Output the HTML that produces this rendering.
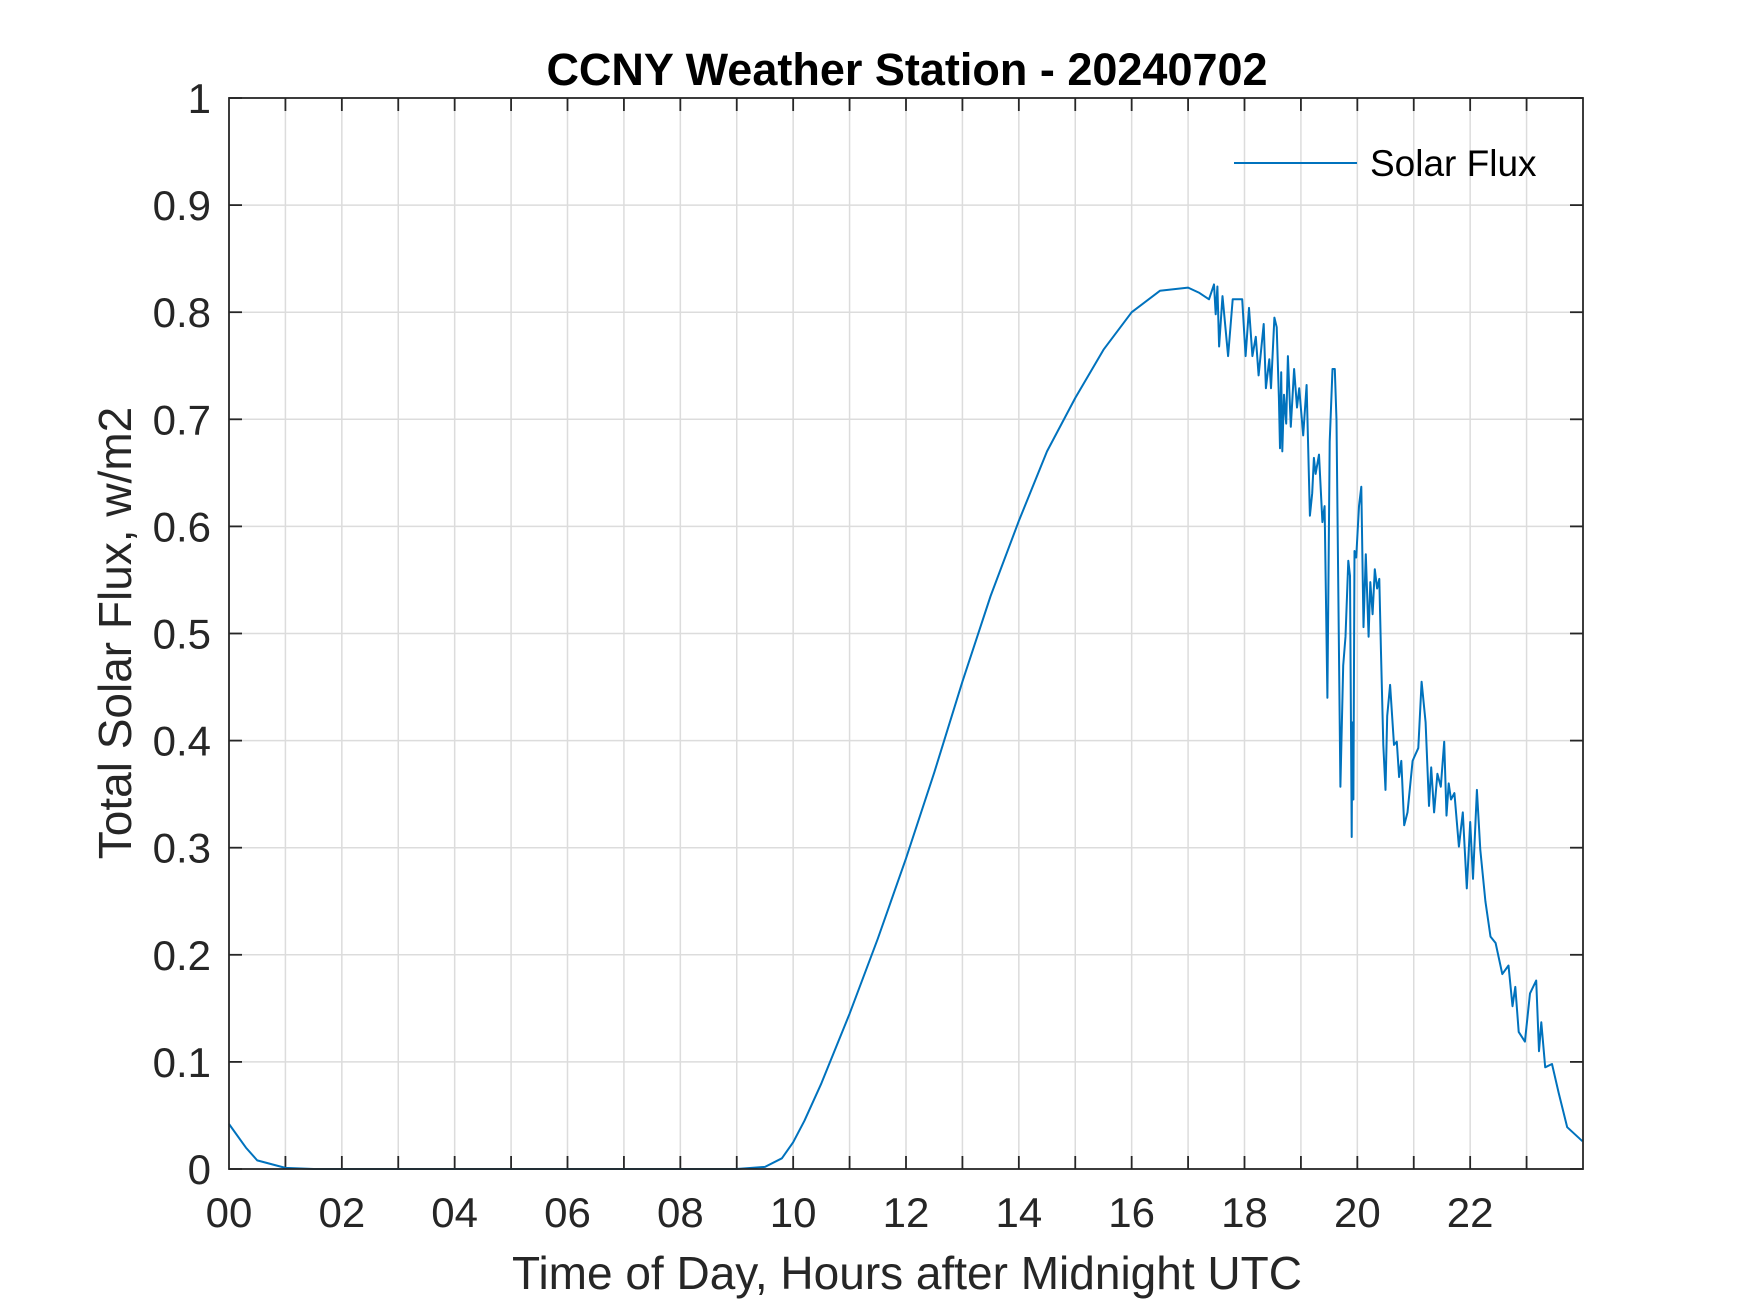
<!DOCTYPE html>
<html><head><meta charset="utf-8"><style>
body{margin:0;background:#fff}
svg{display:block;font-family:"Liberation Sans",Arial,sans-serif}
</style></head><body>
<svg id="chart" width="1750" height="1313" viewBox="0 0 1750 1313" xmlns="http://www.w3.org/2000/svg">
<rect width="1750" height="1313" fill="#fff"/>
<g id="grid"></g><g id="ticks"></g>
<path id="series" fill="none" stroke="#0072BD" stroke-width="2" stroke-linejoin="round"/>
<rect x="229" y="98" width="1354" height="1071" fill="none" stroke="#262626" stroke-width="1.8"/>
<text x="907" y="85" text-anchor="middle" font-size="45" font-weight="bold" fill="#000">CCNY Weather Station - 20240702</text>
<text x="907" y="1289" text-anchor="middle" font-size="46" fill="#262626">Time of Day, Hours after Midnight UTC</text>
<text transform="translate(131,633) rotate(-90)" text-anchor="middle" font-size="46" fill="#262626">Total Solar Flux, w/m2</text>
<g>
<line x1="1234" y1="163" x2="1357" y2="163" stroke="#0072BD" stroke-width="2"/>
<text x="1370" y="176" font-size="37" fill="#000">Solar Flux</text>
</g>
</svg>
<script>
const hours=[0,0.3,0.5,1.0,1.5,9.0,9.5,9.8,10.0,10.2,10.5,11,11.5,12,12.5,13,13.5,14,14.5,15,15.5,16,16.5,17.0,17.2,17.37,17.46,17.49,17.52,17.55,17.61,17.71,17.79,17.96,18.02,18.08,18.14,18.2,18.25,18.34,18.38,18.44,18.47,18.53,18.57,18.61,18.63,18.65,18.67,18.7,18.74,18.77,18.82,18.88,18.93,18.97,19.04,19.1,19.16,19.2,19.23,19.26,19.32,19.38,19.42,19.47,19.51,19.56,19.6,19.63,19.7,19.75,19.79,19.84,19.87,19.9,19.91,19.93,19.95,19.98,20.03,20.07,20.11,20.15,20.2,20.23,20.27,20.31,20.35,20.39,20.42,20.46,20.5,20.53,20.58,20.65,20.7,20.74,20.78,20.83,20.89,20.98,21.03,21.08,21.14,21.21,21.27,21.31,21.36,21.42,21.48,21.54,21.58,21.62,21.66,21.72,21.8,21.87,21.94,22.0,22.05,22.12,22.18,22.27,22.36,22.45,22.57,22.68,22.75,22.8,22.86,22.97,23.06,23.17,23.22,23.26,23.33,23.45,23.57,23.72,23.99];
const flux=[0.042,0.02,0.008,0.001,0,0,0.002,0.01,0.025,0.045,0.08,0.145,0.215,0.29,0.37,0.455,0.535,0.605,0.67,0.72,0.765,0.8,0.82,0.823,0.818,0.812,0.826,0.798,0.824,0.768,0.815,0.759,0.812,0.812,0.759,0.804,0.759,0.777,0.741,0.789,0.729,0.756,0.729,0.795,0.786,0.72,0.673,0.744,0.67,0.723,0.696,0.759,0.693,0.747,0.711,0.729,0.685,0.732,0.61,0.631,0.664,0.649,0.667,0.604,0.619,0.44,0.679,0.747,0.747,0.699,0.357,0.47,0.497,0.568,0.554,0.31,0.417,0.345,0.577,0.571,0.619,0.637,0.506,0.574,0.497,0.548,0.518,0.56,0.542,0.551,0.482,0.396,0.354,0.423,0.452,0.396,0.399,0.366,0.381,0.321,0.333,0.381,0.387,0.393,0.455,0.417,0.339,0.375,0.333,0.369,0.357,0.399,0.33,0.36,0.345,0.351,0.301,0.333,0.262,0.324,0.271,0.354,0.298,0.25,0.217,0.211,0.182,0.19,0.152,0.17,0.128,0.119,0.164,0.176,0.11,0.137,0.095,0.098,0.071,0.039,0.026];
const xTickLabels=["00","02","04","06","08","10","12","14","16","18","20","22"];
const yTickLabels=["0","0.1","0.2","0.3","0.4","0.5","0.6","0.7","0.8","0.9","1"];
const L=229,R=1583,T=98,B=1169;
const xs=h=>L+h/24*(R-L);
const ys=v=>B-v*(B-T);
const NS="http://www.w3.org/2000/svg";
const grid=document.getElementById('grid'),ticks=document.getElementById('ticks');
function mk(tag,attrs,parent){const e=document.createElementNS(NS,tag);for(const k in attrs)e.setAttribute(k,attrs[k]);parent.appendChild(e);return e;}
for(let h=1;h<24;h++){
  const x=xs(h);
  const g=mk('line',{x1:x,y1:T,x2:x,y2:B,stroke:'#dcdcdc','stroke-width':1.5},grid);
  
  
  mk('line',{x1:x,y1:B,x2:x,y2:B-13,stroke:'#262626','stroke-width':1.8},ticks);
  mk('line',{x1:x,y1:T,x2:x,y2:T+13,stroke:'#262626','stroke-width':1.8},ticks);
}
xTickLabels.forEach((s,i)=>{
  const t=mk('text',{x:xs(i*2),y:1227,'text-anchor':'middle','font-size':42,fill:'#262626'},ticks);
  t.textContent=s;
  
  
});
yTickLabels.forEach((s,i)=>{
  const y=ys(i/10);
  if(i>0&&i<10){
    const g=mk('line',{x1:L,y1:y,x2:R,y2:y,stroke:'#dcdcdc','stroke-width':1.5},grid);
    
    
  }
  mk('line',{x1:L,y1:y,x2:L+13,y2:y,stroke:'#262626','stroke-width':1.8},ticks);
  mk('line',{x1:R,y1:y,x2:R-13,y2:y,stroke:'#262626','stroke-width':1.8},ticks);
  const t=mk('text',{x:211,y:y+15,'text-anchor':'end','font-size':42,fill:'#262626'},ticks);
  t.textContent=s;
  
  
});
document.getElementById('series').setAttribute('d',hours.map((h,i)=>(i?'L':'M')+xs(h).toFixed(1)+','+ys(flux[i]).toFixed(1)).join(''));
</script>
</body></html>
